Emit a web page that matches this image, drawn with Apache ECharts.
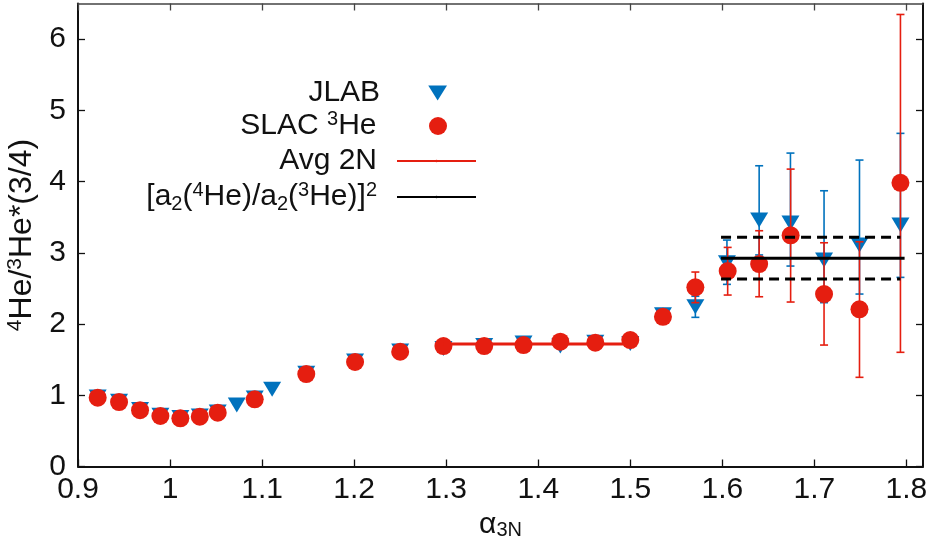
<!DOCTYPE html>
<html><head><meta charset="utf-8">
<script src="https://cdn.jsdelivr.net/npm/echarts@6/dist/echarts.min.js"></script>
<style>html,body{margin:0;padding:0;background:#fff}#c{width:934px;height:539px}</style>
</head><body><div id="c"></div>
<script>
// ---- data ----
const jlabX = [0.9214,0.9446,0.9674,0.9895,1.0112,1.0323,1.0518,1.0725,1.092,1.1109,1.148,1.201,1.25,1.297,1.3413,1.384,1.424,1.462,1.5,1.5355,1.5707,1.605,1.64,1.674,1.7105,1.749,1.7935];
const jlabY = [0.975,0.915,0.80,0.72,0.687,0.71,0.765,0.863,0.96,1.083,1.31,1.48,1.62,1.656,1.70,1.733,1.69,1.745,1.726,2.13,2.243,2.86,3.46,3.42,2.898,3.109,3.389];
const jlabErrX  = [1.5707,1.605,1.64,1.674,1.7105,1.749,1.7935];
const jlabErrLo = [2.094,2.557,2.97,2.814,2.30,2.421,2.655];
const jlabErrHi = [2.39,3.179,4.222,4.40,3.871,4.302,4.677];

const slacX = [0.9214,0.9446,0.9674,0.9895,1.0112,1.0323,1.0518,1.092,1.148,1.201,1.25,1.297,1.3413,1.384,1.424,1.462,1.5,1.5355,1.5707,1.6058,1.64,1.6742,1.7105,1.749,1.7935];
const slacY = [0.966,0.905,0.790,0.709,0.677,0.700,0.756,0.943,1.298,1.467,1.611,1.691,1.691,1.705,1.752,1.738,1.775,2.102,2.515,2.744,2.842,3.245,2.421,2.206,3.983];
const slacErrX  = [1.5707,1.6058,1.64,1.6742,1.7105,1.749,1.7935];
const slacErrLo = [2.30,2.407,2.383,2.309,1.705,1.252,1.603];
const slacErrHi = [2.73,3.076,3.31,4.175,3.141,3.155,6.346];

const avg2NX = [1.297,1.5];
const avg2NY = [1.719,1.719];
const a2X = [1.5986,1.798];
const a2Y = [2.922,2.922];
const a2LoX = [1.5986,1.7935];
const a2LoY = [2.632,2.632];
const a2HiX = [1.5986,1.7935];
const a2HiY = [3.217,3.217];

const xTicks = [0.9,1,1.1,1.2,1.3,1.4,1.5,1.6,1.7,1.8];
const yTicks = [0,1,2,3,4,5,6];

// ---- chart ----
const BLUE = '#0072bd', RED = '#e51e10';
const FONT = '"Liberation Sans", Arial, Helvetica, sans-serif';
const FS = 30, FSS = 20;
const zip = (a,b) => a.map((v,i)=>[v,b[i]]);
const zip3 = (a,b,c) => a.map((v,i)=>[v,b[i],c[i]]);

function errRender(color){
  return function(params, api){
    const x = api.value(0), lo = api.value(1), hi = api.value(2);
    const p1 = api.coord([x, lo]), p2 = api.coord([x, hi]);
    const cw = 4;
    const st = {stroke: color, lineWidth: 1.6};
    return {type:'group', children:[
      {type:'line', shape:{x1:p1[0],y1:p1[1],x2:p2[0],y2:p2[1]}, style:st},
      {type:'line', shape:{x1:p1[0]-cw,y1:p1[1],x2:p1[0]+cw,y2:p1[1]}, style:st},
      {type:'line', shape:{x1:p2[0]-cw,y1:p2[1],x2:p2[0]+cw,y2:p2[1]}, style:st}
    ]};
  };
}

const richStyles = {
  n:   {fontSize: FS, fontFamily: FONT, color: '#111', lineHeight: 34},
  sup: {fontSize: FSS, fontFamily: FONT, color: '#111', lineHeight: 20, verticalAlign: 'top'},
  sub: {fontSize: FSS, fontFamily: FONT, color: '#111', lineHeight: 20, verticalAlign: 'bottom'}
};
const yNameRich = {
  n:   {fontSize: 32, fontFamily: FONT, color: '#111', lineHeight: 36},
  sup: {fontSize: 21, fontFamily: FONT, color: '#111', lineHeight: 21, verticalAlign: 'top'}
};
const legendLabels = {
  'JLAB': '{n|JLAB}',
  'SLAC 3He': '{n|SLAC }{sup|3}{n|He}',
  'Avg 2N': '{n|Avg 2N}',
  'a2ratio': '{n|[a}{sub|2}{n|(}{sup|4}{n|He)/a}{sub|2}{n|(}{sup|3}{n|He)]}{sup|2}'
};
function mkLegend(item, top, right, h, padR){
  return {
    data: [item], right: right, top: top, orient: 'vertical', align: 'right', padding: 0,
    itemWidth: 79, itemHeight: h, selectedMode: false, symbolKeepAspect: true,
    formatter: n => legendLabels[n],
    textStyle: {fontSize: FS, fontFamily: FONT, color: '#111', lineHeight: 34, padding: [0, padR, 0, 0], rich: richStyles}
  };
}
const isTick = (arr) => (v) => arr.some(t => Math.abs(t - v) < 1e-6);

const option = {
  animation: false,
  backgroundColor: '#fff',
  grid: {left: 78, right: 11, top: 3.5, bottom: 72.5, outerBoundsMode: 'none', containLabel: false},
  legend: [
    mkLegend({name: 'JLAB', icon: 'path://M0,0L20,0L10,16Z'}, 76, 487, 15, 13),
    mkLegend({name: 'SLAC 3He'}, 109, 487, 18, 17),
    mkLegend({name: 'Avg 2N'}, 144, 457, 3, 15),
    mkLegend({name: 'a2ratio'}, 180, 457, 3, 15)
  ],
  xAxis: [{
    type: 'value', min: 0.9, max: 1.818, interval: 0.1,
    name: '{a|α}{s|3N}', nameLocation: 'middle', nameGap: 25,
    nameTextStyle: {rich: {a: {fontSize: FS, fontFamily: FONT, color: '#111', lineHeight: 32}, s: {fontSize: FSS, fontFamily: FONT, color: '#111', lineHeight: 18, verticalAlign: 'bottom'}}},
    axisLine: {show: true, onZero: false, lineStyle: {color: '#111', width: 2}},
    axisTick: {inside: true, length: 7, lineStyle: {color: '#111', width: 1.3}, customValues: xTicks},
    axisLabel: {fontSize: FS, fontFamily: FONT, color: '#111', margin: 8, customValues: xTicks,
                formatter: v => isTick(xTicks)(v) ? String(Math.round(v*10)/10) : ''},
    splitLine: {show: false}
  },{
    type: 'value', min: 0.9, max: 1.818, interval: 0.1, position: 'top',
    axisLine: {show: true, onZero: false, lineStyle: {color: '#444', width: 1.5}},
    axisTick: {inside: true, length: 7, lineStyle: {color: '#444', width: 1.3}, customValues: xTicks},
    axisLabel: {show: false}, splitLine: {show: false}
  }],
  yAxis: [{
    type: 'value', min: 0, max: 6.5, interval: 1,
    name: '{sup|4}{n|He/}{sup|3}{n|He*(3/4)}', nameLocation: 'middle', nameRotate: 90, nameGap: 17,
    nameTextStyle: {rich: yNameRich},
    axisLine: {show: true, onZero: false, lineStyle: {color: '#111', width: 2}},
    axisTick: {inside: true, length: 7, lineStyle: {color: '#111', width: 1.3}, customValues: yTicks},
    axisLabel: {fontSize: FS, fontFamily: FONT, color: '#111', margin: 12, customValues: yTicks,
                formatter: v => isTick(yTicks)(v) ? String(Math.round(v)) : ''},
    splitLine: {show: false}
  },{
    type: 'value', min: 0, max: 6.5, interval: 1, position: 'right',
    axisLine: {show: true, onZero: false, lineStyle: {color: '#111', width: 2}},
    axisTick: {inside: true, length: 7, lineStyle: {color: '#111', width: 1.3}, customValues: yTicks},
    axisLabel: {show: false}, splitLine: {show: false}
  }],
  series: [
    {name: 'JLAB-err', type: 'custom', z: 1, renderItem: errRender(BLUE), data: zip3(jlabErrX, jlabErrLo, jlabErrHi), encode: {x: 0, y: [1,2]}, silent: true},
    {name: 'JLAB', type: 'scatter', z: 2, symbol: 'triangle', symbolRotate: 180, symbolSize: [18,15],
     itemStyle: {color: BLUE, opacity: 1}, data: zip(jlabX, jlabY)},
    {name: 'SLAC-err', type: 'custom', z: 3, renderItem: errRender(RED), data: zip3(slacErrX, slacErrLo, slacErrHi), encode: {x: 0, y: [1,2]}, silent: true},
    {name: 'SLAC 3He', type: 'scatter', z: 4, symbol: 'circle', symbolSize: 18,
     itemStyle: {color: RED, opacity: 1}, data: zip(slacX, slacY)},
    {name: 'Avg 2N', type: 'line', z: 5, showSymbol: false, symbol: 'none', lineStyle: {color: RED, width: 3}, itemStyle: {color: RED}, data: zip(avg2NX, avg2NY)},
    {name: 'a2ratio', type: 'line', z: 5, showSymbol: false, symbol: 'none', lineStyle: {color: '#000', width: 3}, itemStyle: {color: '#000'}, data: zip(a2X, a2Y)},
    {name: 'a2lo', type: 'line', z: 5, showSymbol: false, symbol: 'none', lineStyle: {color: '#000', width: 3, type: [10, 6]}, data: zip(a2LoX, a2LoY)},
    {name: 'a2hi', type: 'line', z: 5, showSymbol: false, symbol: 'none', lineStyle: {color: '#000', width: 3, type: [10, 6]}, data: zip(a2HiX, a2HiY)}
  ]
};
const chart = echarts.init(document.getElementById('c'), null, {renderer: 'canvas'});
chart.setOption(option);
</script>
</body></html>
